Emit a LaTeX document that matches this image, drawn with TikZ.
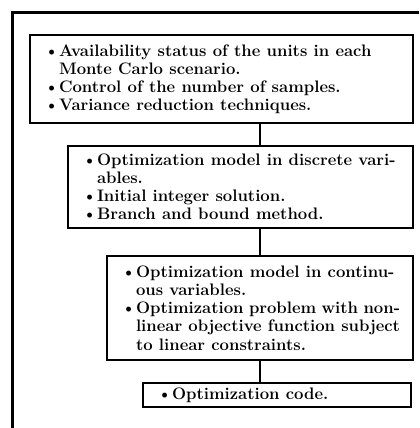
\documentclass[tikz,border=0pt]{standalone}
\newcommand{\bitem}{\par\noindent\hangindent=12pt\hangafter=1\makebox[12pt][l]{\hspace{1pt}\textbullet}\ignorespaces}
\tikzset{
  frameline/.style={line width=2.6pt},
  box/.style={draw, line width=1.6pt, inner xsep=0pt, inner ysep=0pt, align=left, font=\bfseries\fontsize{12.5}{13.6}\selectfont},
  link/.style={line width=1.5pt}
}
\begin{document}
\begin{tikzpicture}[x=0.75pt,y=-0.75pt]
\useasboundingbox (0,0) rectangle (419,428);
\coordinate (ftr) at (419,12.5);
\coordinate (ftl) at (12.5,12.5);
\coordinate (fbl) at (12.5,428);
\draw[frameline] (ftr) -- (ftl) -- (fbl);
\coordinate (cx) at (260,0);
\node[box, minimum width={383*0.75pt}, minimum height={88*0.75pt}] (b1) at (221.5,79)
 {\parbox{267.75pt}{\bitem Availability status of the units in each\\ Monte Carlo scenario.
  \bitem Control of the number of samples.
  \bitem Variance reduction techniques.}};
\node[box, minimum width={345*0.75pt}, minimum height={82*0.75pt}] (b2) at (240.5,187)
 {\parbox{239.25pt}{\bitem Optimization model in discrete vari-\\ ables.
  \bitem Initial integer solution.
  \bitem Branch and bound method.}};
\node[box, minimum width={306*0.75pt}, minimum height={104*0.75pt}] (b3) at (260,308)
 {\parbox{210pt}{\bitem Optimization model in continu-\\ ous variables.
  \bitem Optimization problem with non-\\ linear objective function subject\\ to linear constraints.}};
\node[box, minimum width={268*0.75pt}, minimum height={24*0.75pt}] (b4) at (277,395)
 {\parbox{181.5pt}{\bitem Optimization code.}};
\draw[link] (b1.south -| cx) -- (b2.north -| cx);
\draw[link] (b2.south -| cx) -- (b3.north -| cx);
\draw[link] (b3.south -| cx) -- (b4.north -| cx);
\end{tikzpicture}
\end{document}
